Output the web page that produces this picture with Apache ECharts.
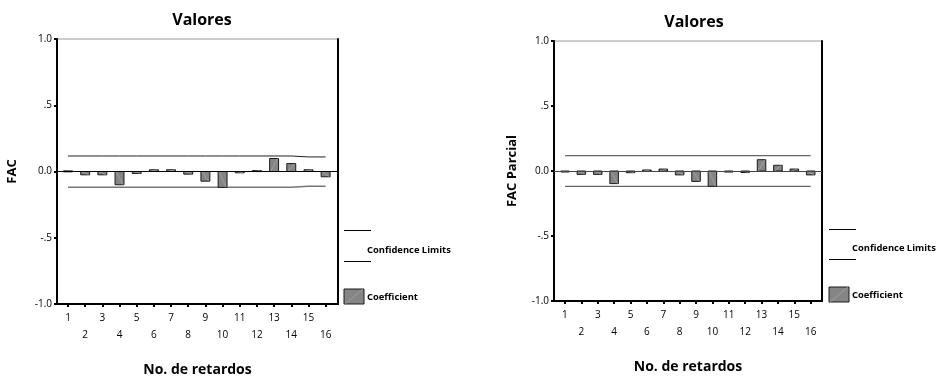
<!DOCTYPE html>
<html>
<head>
<meta charset="utf-8">
<script src="https://cdn.jsdelivr.net/npm/echarts@6/dist/echarts.min.js"></script>
<style>
html,body{margin:0;padding:0;background:#fff;}
#chart{width:938px;height:379px;}
</style>
</head>
<body>
<div id="chart"></div>
<script>
// ---- data ----
const lags = [1,2,3,4,5,6,7,8,9,10,11,12,13,14,15,16];
const acfValues = [0.005,-0.025,-0.025,-0.100,-0.015,0.013,0.013,-0.020,-0.073,-0.120,-0.010,0.007,0.098,0.060,0.013,-0.040];
const acfUpper = [0.117,0.117,0.117,0.117,0.117,0.117,0.117,0.117,0.117,0.117,0.117,0.117,0.117,0.117,0.110,0.110];
const acfLower = [-0.119,-0.119,-0.119,-0.119,-0.119,-0.119,-0.119,-0.119,-0.119,-0.119,-0.119,-0.119,-0.119,-0.119,-0.111,-0.111];
const pacfValues = [-0.003,-0.026,-0.026,-0.097,-0.013,0.008,0.015,-0.030,-0.080,-0.118,-0.008,-0.012,0.087,0.044,0.015,-0.030];
const pacfUpper = [0.118,0.118,0.118,0.118,0.118,0.118,0.118,0.118,0.118,0.118,0.118,0.118,0.118,0.118,0.118,0.118];
const pacfLower = [-0.118,-0.118,-0.118,-0.118,-0.118,-0.118,-0.118,-0.118,-0.118,-0.118,-0.118,-0.118,-0.118,-0.118,-0.118,-0.118];
const yTickValues = [-1,-0.5,0,0.5,1];
const yTickLabels = ['-1.0','-.5','0.0','.5','1.0'];
const chartTitles = ['Valores','Valores'];
const yNames = ['FAC','FAC Parcial'];
const xName = 'No. de retardos';
const legendLabels = ['Confidence Limits','Coefficient'];

const FONT = '"Open Sans", "DejaVu Sans", sans-serif';

function yFmt(v){
  for (let i=0;i<yTickValues.length;i++){ if (Math.abs(yTickValues[i]-v)<1e-9) return yTickLabels[i]; }
  return '';
}

function barRender(params, api){
  const x = api.value(0), v = api.value(1);
  const p0 = api.coord([x,0]);
  const p1 = api.coord([x,v]);
  const w = api.size([1,0])[0]*0.52;
  const left = p0[0]-w/2;
  const top = Math.min(p0[1],p1[1]);
  const h = Math.max(Math.abs(p1[1]-p0[1]),1);
  return {type:'group',children:[
    {type:'rect',shape:{x:left,y:top,width:w,height:h},style:{fill:'#858585',stroke:'#1a1a1a',lineWidth:1}},
    {type:'line',shape:{x1:left+1,y1:p0[1],x2:left+w-1,y2:p1[1]},style:{stroke:'#b0b0b0',lineWidth:0.6}}
  ]};
}

function xAxisCfg(gi,min,max,gap){
  return {
    type:'value', gridIndex:gi, min:min, max:max, position:'bottom',
    axisLine:{onZero:false,lineStyle:{color:'#000',width:2}},
    axisTick:{customValues:lags,length:3,lineStyle:{color:'#000',width:2}},
    axisLabel:{customValues:lags,fontFamily:FONT,fontSize:10,color:'#000',margin:5,lineHeight:17.5,
      formatter:function(v){return (v%2===0)?('\n'+v):(''+v);}},
    splitLine:{show:false},
    name:xName,nameLocation:'middle',nameGap:gap,
    nameTextStyle:{fontFamily:FONT,fontSize:14,fontWeight:'bold',color:'#000'}
  };
}
function yAxisCfg(gi,name,gap){
  return {
    type:'value', gridIndex:gi, min:-1, max:1, interval:0.5, position:'left',
    axisLine:{show:true,onZero:false,lineStyle:{color:'#000',width:2}},
    axisTick:{show:true,length:3,lineStyle:{color:'#000',width:2}},
    axisLabel:{fontFamily:FONT,fontSize:10,color:'#000',margin:5,formatter:yFmt},
    splitLine:{show:false},
    name:name,nameLocation:'middle',nameGap:gap,
    nameTextStyle:{fontFamily:FONT,fontSize:13,fontWeight:'bold',color:'#000'}
  };
}
function yRightCfg(gi){
  return {type:'value',gridIndex:gi,min:-1,max:1,position:'right',
    axisLine:{show:true,onZero:false,lineStyle:{color:'#000',width:2}},
    axisTick:{show:false},axisLabel:{show:false},splitLine:{show:false}};
}

function lineSeries(xi,yi,vals,color,width,withZero,zeroColor){
  const s = {type:'line',xAxisIndex:xi,yAxisIndex:yi,data:lags.map((l,i)=>[l,vals[i]]),
    symbol:'none',lineStyle:{color:color,width:width},silent:true,z:3};
  if (withZero){
    s.markLine = {silent:true,symbol:'none',label:{show:false},
      lineStyle:{color:zeroColor,width:1,type:'solid'},data:[{yAxis:0}],animation:false};
  }
  return s;
}

function legendGraphic(x0,lineY1,textY,lineY2,rectY,coefY){
  return [
    {type:'line',shape:{x1:x0,y1:lineY1,x2:x0+27,y2:lineY1},style:{stroke:'#000',lineWidth:1}},
    {type:'line',shape:{x1:x0,y1:lineY2,x2:x0+27,y2:lineY2},style:{stroke:'#000',lineWidth:1}},
    {type:'text',x:x0+23,y:textY,style:{text:legendLabels[0],fontFamily:FONT,fontSize:9.4,fontWeight:'bold',fill:'#000',verticalAlign:'middle'}},
    {type:'rect',shape:{x:x0,y:rectY,width:20,height:15},style:{fill:'#858585',stroke:'#1a1a1a',lineWidth:1}},
    {type:'line',shape:{x1:x0+1,y1:rectY+15,x2:x0+19,y2:rectY},style:{stroke:'#b0b0b0',lineWidth:0.6}},
    {type:'text',x:x0+23,y:coefY,style:{text:legendLabels[1],fontFamily:FONT,fontSize:9.4,fontWeight:'bold',fill:'#000',verticalAlign:'middle'}}
  ];
}

const chart = echarts.init(document.getElementById('chart'),null,{renderer:'canvas'});
chart.setOption({
  animation:false,
  backgroundColor:'#fff',
  title:[
    {text:chartTitles[0],left:197,top:7,textAlign:'center',textStyle:{fontFamily:FONT,fontSize:16,fontWeight:'bold',color:'#000'}},
    {text:chartTitles[1],left:689,top:9,textAlign:'center',textStyle:{fontFamily:FONT,fontSize:16,fontWeight:'bold',color:'#000'}}
  ],
  grid:[
    {left:57,top:39,width:281,height:265,show:true,borderColor:'#9a9a9a',borderWidth:1,backgroundColor:'transparent',containLabel:false,outerBoundsMode:'none'},
    {left:554,top:41,width:268,height:260,show:true,borderColor:'#9a9a9a',borderWidth:1,backgroundColor:'transparent',containLabel:false,outerBoundsMode:'none'}
  ],
  xAxis:[ xAxisCfg(0,0.36,16.72,59), xAxisCfg(1,0.33,16.69,59) ],
  yAxis:[ yAxisCfg(0,yNames[0],38), yAxisCfg(1,yNames[1],35), yRightCfg(0), yRightCfg(1) ],
  series:[
    lineSeries(0,0,acfUpper,'#222',1,true,'#000'),
    lineSeries(0,0,acfLower,'#777',1.6,false),
    {type:'custom',xAxisIndex:0,yAxisIndex:0,data:lags.map((l,i)=>[l,acfValues[i]]),encode:{x:0,y:1},renderItem:barRender,z:4},
    lineSeries(1,1,pacfUpper,'#666',1.4,true,'#444'),
    lineSeries(1,1,pacfLower,'#666',1.4,false),
    {type:'custom',xAxisIndex:1,yAxisIndex:1,data:lags.map((l,i)=>[l,pacfValues[i]]),encode:{x:0,y:1},renderItem:barRender,z:4}
  ],
  graphic: legendGraphic(344,230.5,250.5,261.5,289,297.5).concat(legendGraphic(829,229.5,248,259.5,287,295))
});
</script>
</body>
</html>
